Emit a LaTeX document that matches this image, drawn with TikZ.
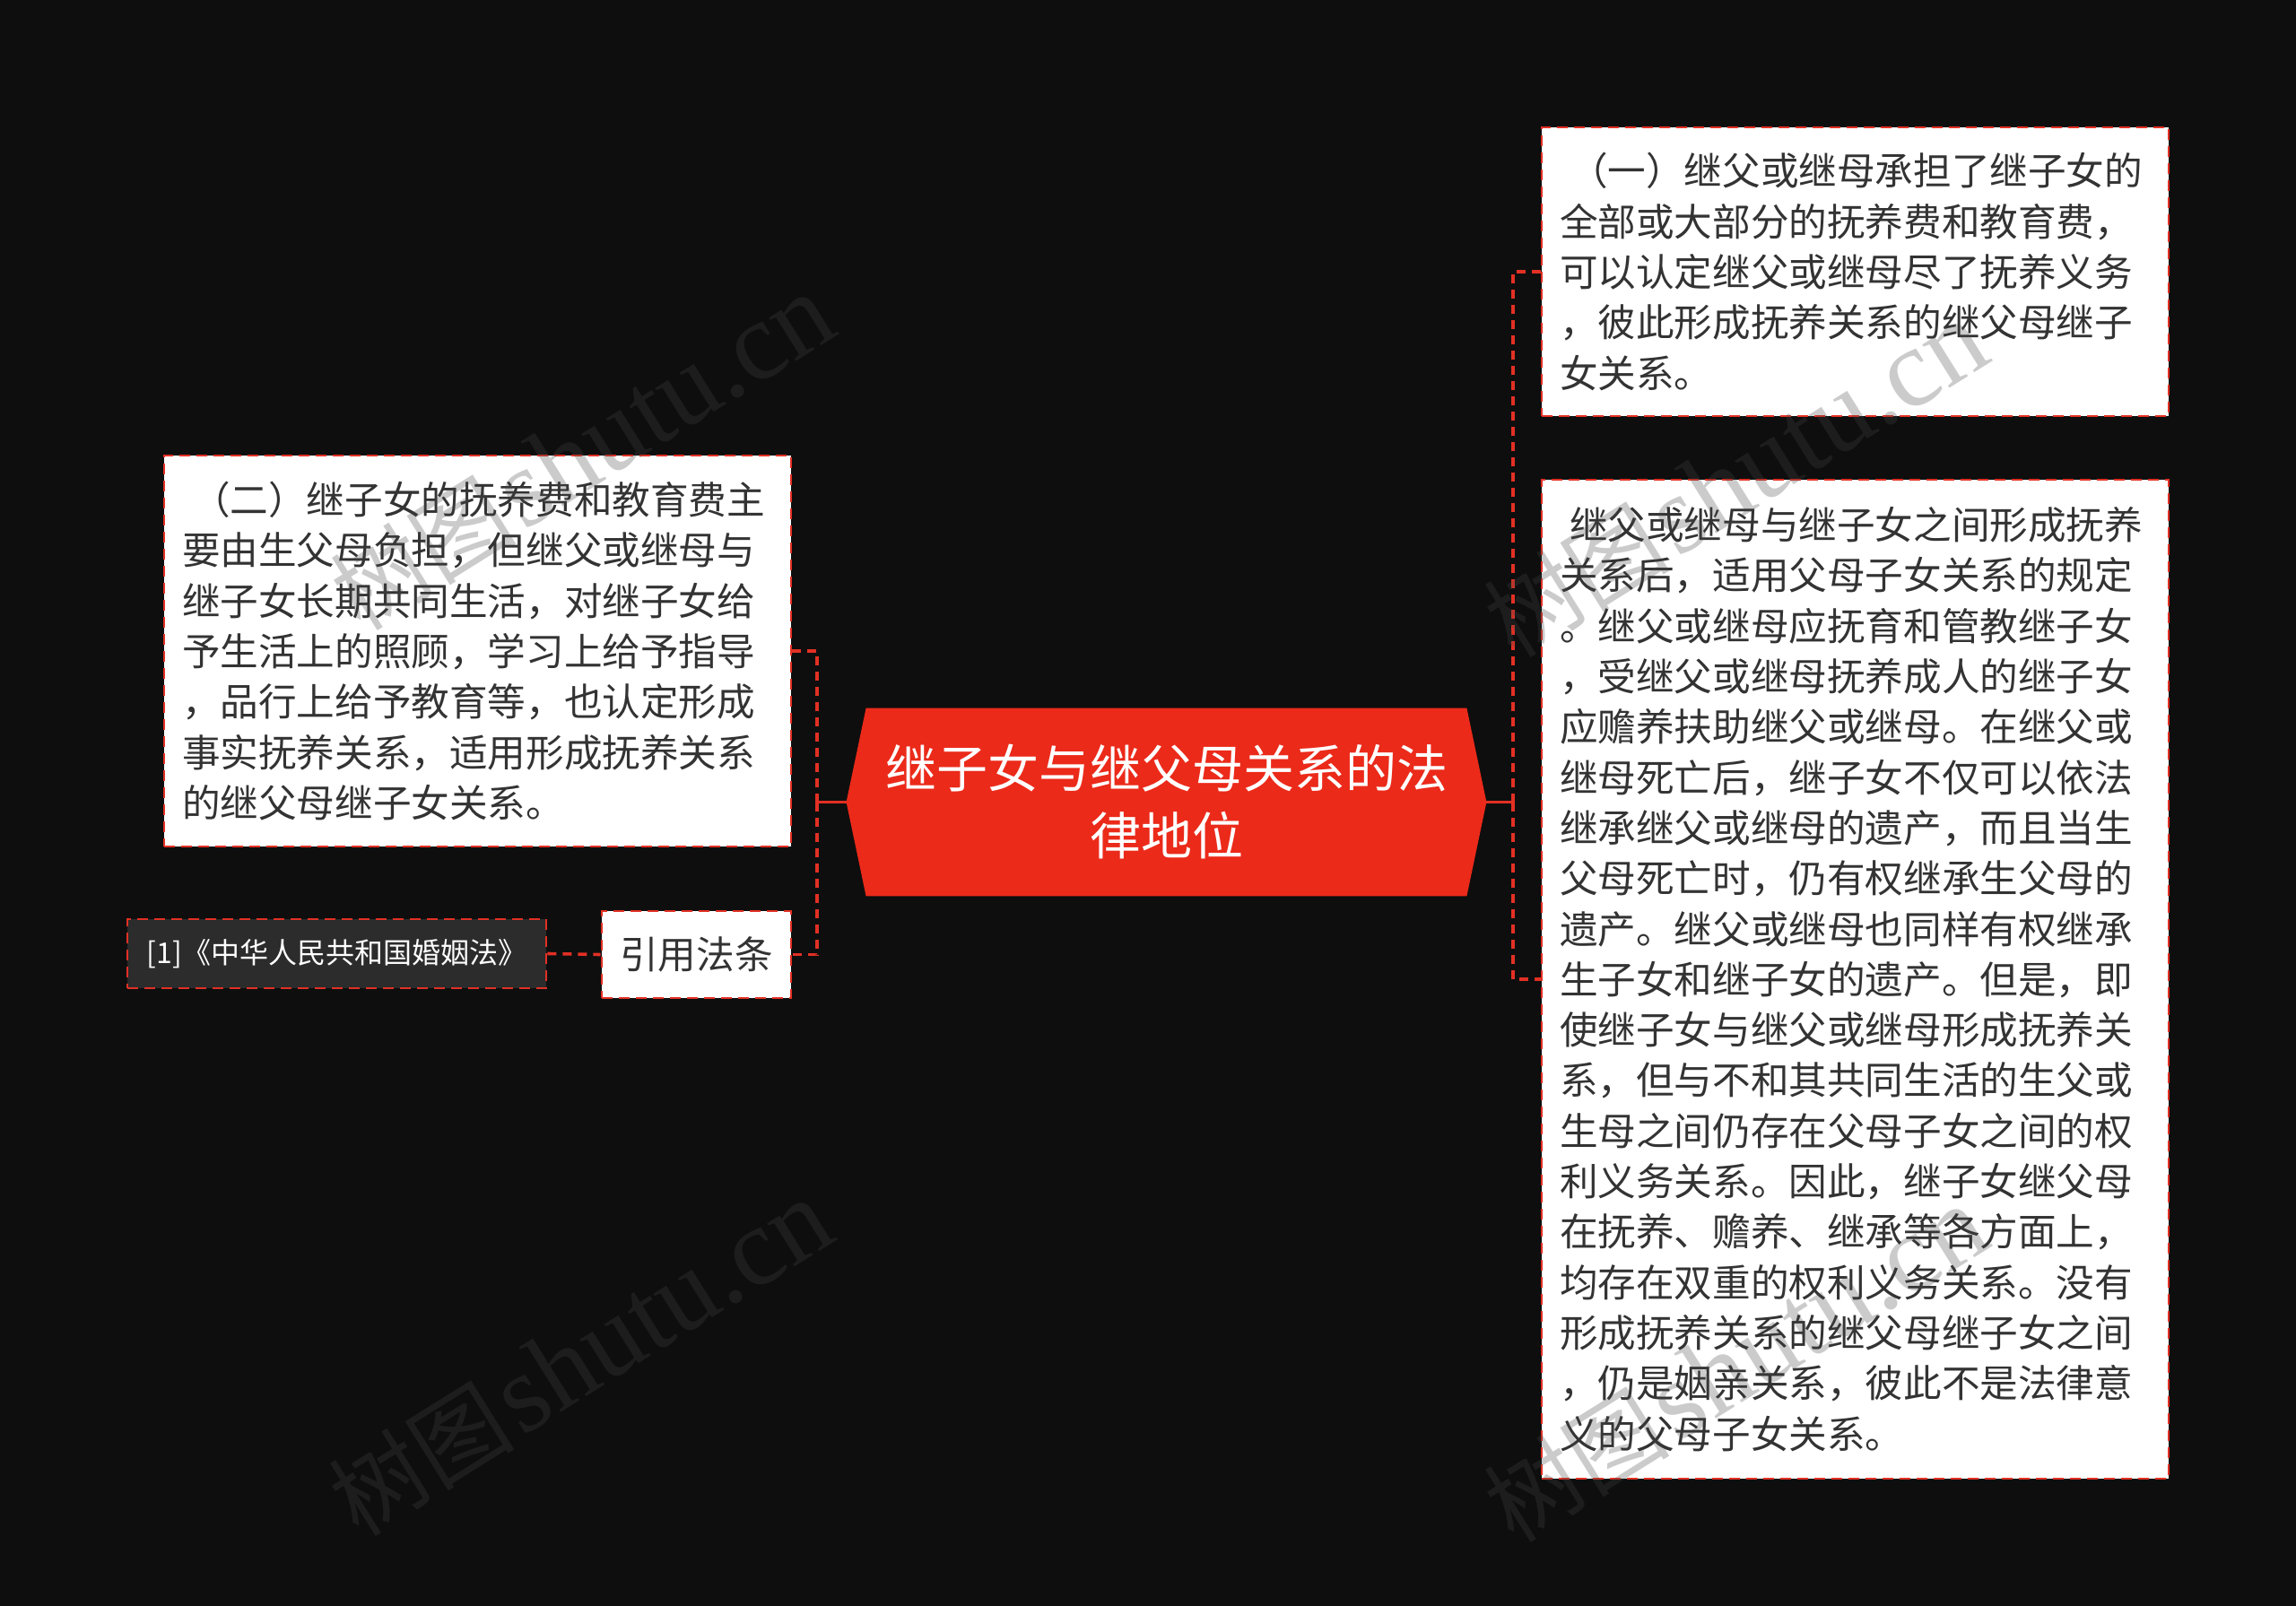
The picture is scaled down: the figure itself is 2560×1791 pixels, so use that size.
\documentclass[tikz,border=0pt]{standalone}
\usepackage{fontspec}
\newfontfamily\cjk{Noto Sans CJK SC}
\newfontfamily\wmlatin{Liberation Serif}
\definecolor{bgc}{HTML}{0E0E0E}
\definecolor{hexred}{RGB}{235,42,26}
\definecolor{linered}{RGB}{226,48,36}
\definecolor{txtc}{HTML}{333333}
\definecolor{refbg}{HTML}{2C2C2C}
\definecolor{wmgray}{HTML}{474747}
\pgfdeclarelayer{back}
\pgfsetlayers{back,main}
\tikzset{
  boxfont/.style={font=\cjk\fontsize{21.3pt}{28.15pt}\selectfont},
  txtbox/.style={boxfont, draw=linered, line width=1.3pt, dash pattern=on 6pt off 3.5pt,
    fill=white, text=txtc, inner sep=0pt, align=left},
  titlebox/.style={font=\cjk\fontsize{28.5pt}{37.5pt}\selectfont, text=white, align=center,
    inner sep=0pt, minimum width=356.5pt, minimum height=104.5pt},
  refbox/.style={font=\cjk\fontsize{16pt}{20pt}\selectfont, text=white, fill=refbg,
    draw=linered, line width=1.3pt, dash pattern=on 6pt off 3.5pt, inner sep=0pt},
  conn/.style={draw=linered, line width=1.8pt, dash pattern=on 5pt off 3.5pt},
  stub/.style={draw=linered, line width=1.8pt},
  wm/.style={text=wmgray, text opacity=0.28, rotate=32, inner sep=0pt}
}
\begin{document}
\begin{tikzpicture}[x=0.5pt,y=-0.5pt]
\useasboundingbox (0,0) rectangle (2560,1791);
\begin{pgfonlayer}{back}
\fill[bgc] (0,0) rectangle (2560,1791);
\end{pgfonlayer}

% central node
\node[titlebox] (c) at (1300.5,894.5) {继子女与继父母关系的法\\律地位};
\begin{pgfonlayer}{back}
\fill[hexred] (c.west) -- ([xshift=11pt]c.north west) -- ([xshift=-11pt]c.north east)
  -- (c.east) -- ([xshift=-11pt]c.south east) -- ([xshift=11pt]c.south west) -- cycle;
\end{pgfonlayer}

% right boxes
\node[txtbox, minimum width=349.5pt, minimum height=161pt, text width=329.5pt] (r1) at (2068.5,303) {%
\hspace*{5.5pt}（一）继父或继母承担了继子女的\\
全部或大部分的抚养费和教育费，\\
可以认定继父或继母尽了抚养义务\\
，彼此形成抚养关系的继父母继子\\
女关系。};

\node[txtbox, minimum width=349.5pt, minimum height=557pt, text width=329.5pt] (r2) at (2068.5,1092) {%
\hspace*{5.5pt}继父或继母与继子女之间形成抚养\\
关系后，适用父母子女关系的规定\\
。继父或继母应抚育和管教继子女\\
，受继父或继母抚养成人的继子女\\
应赡养扶助继父或继母。在继父或\\
继母死亡后，继子女不仅可以依法\\
继承继父或继母的遗产，而且当生\\
父母死亡时，仍有权继承生父母的\\
遗产。继父或继母也同样有权继承\\
生子女和继子女的遗产。但是，即\\
使继子女与继父或继母形成抚养关\\
系，但与不和其共同生活的生父或\\
生母之间仍存在父母子女之间的权\\
利义务关系。因此，继子女继父母\\
在抚养、赡养、继承等各方面上，\\
均存在双重的权利义务关系。没有\\
形成抚养关系的继父母继子女之间\\
，仍是姻亲关系，彼此不是法律意\\
义的父母子女关系。};

% left boxes
\node[txtbox, minimum width=349.5pt, minimum height=218pt, text width=329.5pt] (l1) at (532.5,726) {%
\hspace*{5.5pt}（二）继子女的抚养费和教育费主\\
要由生父母负担，但继父或继母与\\
继子女长期共同生活，对继子女给\\
予生活上的照顾，学习上给予指导\\
，品行上给予教育等，也认定形成\\
事实抚养关系，适用形成抚养关系\\
的继父母继子女关系。};

\node[txtbox, align=center, minimum width=105.5pt, minimum height=48.5pt] (cite) at (776.5,1064.5) {引用法条};

\node[refbox, minimum width=233.5pt, minimum height=38.5pt] (ref) at (375.5,1063.5) {[1]《中华人民共和国婚姻法》};

% connectors
\coordinate (rb) at (1687,894.5);
\coordinate (lb) at (911,894.5);
\draw[stub] (c.east) -- (rb);
\draw[conn] (rb) |- (r1.west);
\draw[conn] (rb) |- (r2.west);
\draw[stub] (c.west) -- (lb);
\draw[conn] (lb) |- (l1.east);
\draw[conn] (lb) |- (cite.east);
\draw[conn] (ref.east) -- (cite.west);

% watermarks
\node[wm] (wm1) at (649,505) {{\cjk\fontsize{52pt}{52pt}\selectfont 树图} {\wmlatin\fontsize{62pt}{62pt}\selectfont shutu.cn}};
\node[wm] (wm2) at (1935,535) {{\cjk\fontsize{52pt}{52pt}\selectfont 树图} {\wmlatin\fontsize{62pt}{62pt}\selectfont shutu.cn}};
\node[wm] (wm3) at (647,1515) {{\cjk\fontsize{52pt}{52pt}\selectfont 树图} {\wmlatin\fontsize{62pt}{62pt}\selectfont shutu.cn}};
\node[wm] (wm4) at (1935,1522) {{\cjk\fontsize{52pt}{52pt}\selectfont 树图} {\wmlatin\fontsize{62pt}{62pt}\selectfont shutu.cn}};
\end{tikzpicture}
\end{document}
